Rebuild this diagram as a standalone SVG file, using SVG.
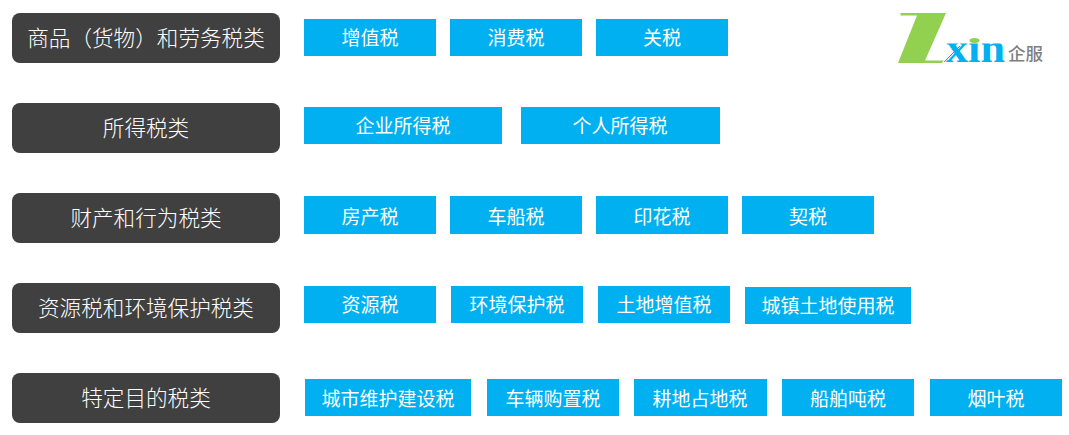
<svg xmlns="http://www.w3.org/2000/svg" width="1069" height="435" viewBox="0 0 1069 435">
<defs><clipPath id="cut"><rect x="940" y="43.500" width="70" height="22"/></clipPath></defs>
<style>
text{font-family:"Noto Sans CJK SC","Microsoft YaHei",sans-serif;text-anchor:middle;fill:#fff;font-weight:400}
.h rect{fill:#404040}
.h text{font-size:21.600px;font-weight:300}
.b rect{fill:#00b0f0}
.b text{font-size:19px}
</style>
<rect width="1069" height="435" fill="#fff"/>
<g id="connectors"/>
<g id="h1" class="h"><rect x="12" y="13" width="268" height="50" rx="8"/><text x="146" y="46">商品（货物）和劳务税类</text></g>
<g id="h2" class="h"><rect x="12" y="103" width="268" height="50" rx="8"/><text x="146" y="136">所得税类</text></g>
<g id="h3" class="h"><rect x="12" y="193" width="268" height="50" rx="8"/><text x="146" y="226">财产和行为税类</text></g>
<g id="h4" class="h"><rect x="12" y="283" width="268" height="50" rx="8"/><text x="146" y="316">资源税和环境保护税类</text></g>
<g id="h5" class="h"><rect x="12" y="373" width="268" height="50" rx="8"/><text x="146" y="406">特定目的税类</text></g>

<g id="a1" class="b"><rect x="304" y="19" width="132" height="37"/><text x="370" y="45">增值税</text></g>
<g id="a2" class="b"><rect x="450" y="19" width="132" height="37"/><text x="516" y="45">消费税</text></g>
<g id="a3" class="b"><rect x="596" y="19" width="132" height="37"/><text x="662" y="45">关税</text></g>

<g id="b1" class="b"><rect x="304" y="107" width="198" height="37"/><text x="403" y="133">企业所得税</text></g>
<g id="b2" class="b"><rect x="521" y="107" width="199" height="37"/><text x="620" y="133">个人所得税</text></g>

<g id="c1" class="b"><rect x="304" y="196" width="132" height="38"/><text x="370" y="223.500">房产税</text></g>
<g id="c2" class="b"><rect x="450" y="196" width="132" height="38"/><text x="516" y="223.500">车船税</text></g>
<g id="c3" class="b"><rect x="596" y="196" width="132" height="38"/><text x="662" y="223.500">印花税</text></g>
<g id="c4" class="b"><rect x="742" y="196" width="132" height="38"/><text x="808" y="223.500">契税</text></g>

<g id="d1" class="b"><rect x="304" y="286" width="132" height="37"/><text x="370" y="312">资源税</text></g>
<g id="d2" class="b"><rect x="451" y="286" width="132" height="37"/><text x="517" y="312">环境保护税</text></g>
<g id="d3" class="b"><rect x="598" y="286" width="132" height="37"/><text x="664" y="312">土地增值税</text></g>
<g id="d4" class="b"><rect x="745" y="287" width="166" height="37"/><text x="828" y="313">城镇土地使用税</text></g>

<g id="e1" class="b"><rect x="305" y="379" width="166" height="37"/><text x="388" y="405.500">城市维护建设税</text></g>
<g id="e2" class="b"><rect x="487" y="379" width="132" height="37"/><text x="553" y="405.500">车辆购置税</text></g>
<g id="e3" class="b"><rect x="634" y="379" width="133" height="37"/><text x="700" y="405.500">耕地占地税</text></g>
<g id="e4" class="b"><rect x="782" y="379" width="132" height="37"/><text x="848" y="405.500">船舶吨税</text></g>
<g id="e5" class="b"><rect x="930" y="379" width="132" height="37"/><text x="996" y="405.500">烟叶税</text></g>

<g id="logo">
<path d="M900.500 13H946L925 60.500H943.500L942 63H898L917 15.500H900.500Z" fill="#92d050"/>
<path d="M944 62L960 46" stroke="#00b0f0" stroke-width="1" fill="none"/>
<text x="975.500" y="62" textLength="59" lengthAdjust="spacingAndGlyphs" clip-path="url(#cut)" style="font-family:'Liberation Serif',serif;font-weight:700;font-size:40px;fill:#00b0f0">xin</text>
<ellipse cx="974.500" cy="40.500" rx="5" ry="2.500" fill="#92d050"/>
<text x="1025.500" y="59.500" style="font-size:17.500px;fill:#7f7f7f;font-weight:500">企服</text>
</g>
</svg>
